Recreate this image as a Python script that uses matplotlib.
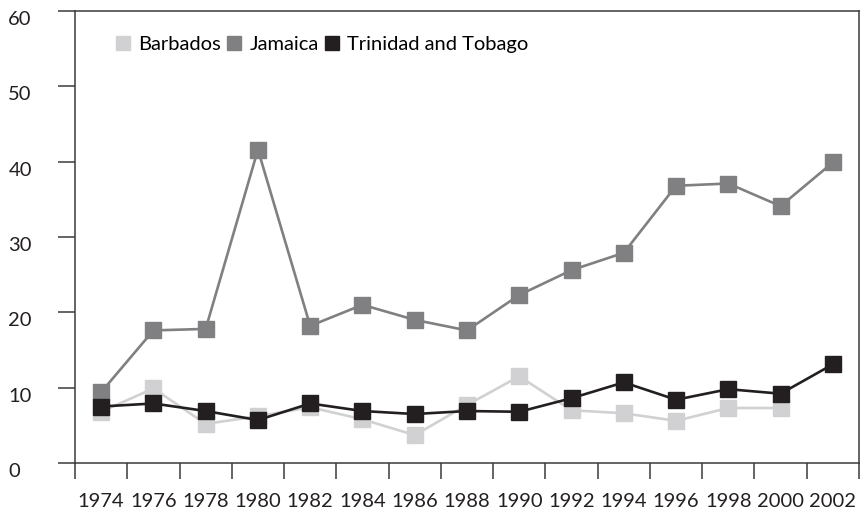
import numpy as np
import matplotlib.pyplot as plt
import matplotlib.transforms as mtransforms
from matplotlib.lines import Line2D

plt.rcParams['font.family'] = ['Lato', 'DejaVu Sans']

years = ['1974', '1976', '1978', '1980', '1982', '1984', '1986', '1988',
         '1990', '1992', '1994', '1996', '1998', '2000', '2002']
barbados = [6.8, 9.9, 5.2, 6.2, 7.4, 5.8, 3.7, 7.7, 11.5, 7.0, 6.6, 5.6, 7.3, 7.3, np.nan]
jamaica = [9.4, 17.6, 17.8, 41.6, 18.2, 21.0, 19.0, 17.6, 22.3, 25.6, 27.9, 36.8, 37.1, 34.1, 39.9]
trinidad = [7.5, 7.9, 6.9, 5.7, 7.9, 6.9, 6.5, 6.9, 6.8, 8.6, 10.7, 8.4, 9.8, 9.2, 13.1]

c_barb = '#d1d1d3'
c_jam = '#808083'
c_tri = '#231f20'
axis_col = '#3a3a3a'

fig = plt.figure(figsize=(8.65, 5.11), dpi=100)
ax = fig.add_axes([75 / 865, 48 / 511, 784 / 865, 452 / 511])

x = np.arange(len(years))
ms = 11.5
lw = 1.9
ax.plot(x, barbados, color=c_barb, lw=lw, marker='s', ms=ms, mec=c_barb, zorder=2)
ax.plot(x, jamaica, color=c_jam, lw=lw, marker='s', ms=ms, mec=c_jam, zorder=3)
ax.plot(x, trinidad, color=c_tri, lw=lw, marker='s', ms=ms, mec=c_tri, zorder=4)

ax.set_xlim(-0.5, len(years) - 0.5)
ax.set_ylim(0, 60)

fs = 14.5
# category boundaries as ticks, labels centred in between
ax.set_xticks(np.arange(-0.5, len(years), 1.0))
ax.set_xticklabels([])
ax.set_xticks(x, minor=True)
ax.set_xticklabels(years, minor=True, fontsize=fs, color='#231f20')
ax.tick_params(axis='x', which='major', direction='out', length=11.5, width=1.1, color=axis_col)
ax.tick_params(axis='x', which='minor', length=0, pad=21.5)

ax.set_yticks(np.arange(0, 61, 10))
ax.tick_params(axis='y', direction='out', length=12, width=1.1, color=axis_col, pad=36,
               labelsize=fs, labelcolor='#231f20')
# y labels sit a little below their ticks in the original
shift = mtransforms.ScaledTranslation(0, -7 / 100, fig.dpi_scale_trans)
for lab in ax.get_yticklabels():
    lab.set_horizontalalignment('left')
    lab.set_transform(lab.get_transform() + shift)

for s in ax.spines.values():
    s.set_linewidth(1.1)
    s.set_color(axis_col)

handles = [Line2D([], [], ls='none', marker='s', ms=10, color=c, mec=c)
           for c in (c_barb, c_jam, c_tri)]
ax.legend(handles, ['Barbados', 'Jamaica', 'Trinidad and Tobago'], loc='center left',
          bbox_to_anchor=(0.051, 0.9255), ncol=3, frameon=False, fontsize=fs,
          handlelength=0.75, handletextpad=0.38, columnspacing=0.3, borderpad=0,
          borderaxespad=0)

fig.savefig('out.png', dpi=100)
